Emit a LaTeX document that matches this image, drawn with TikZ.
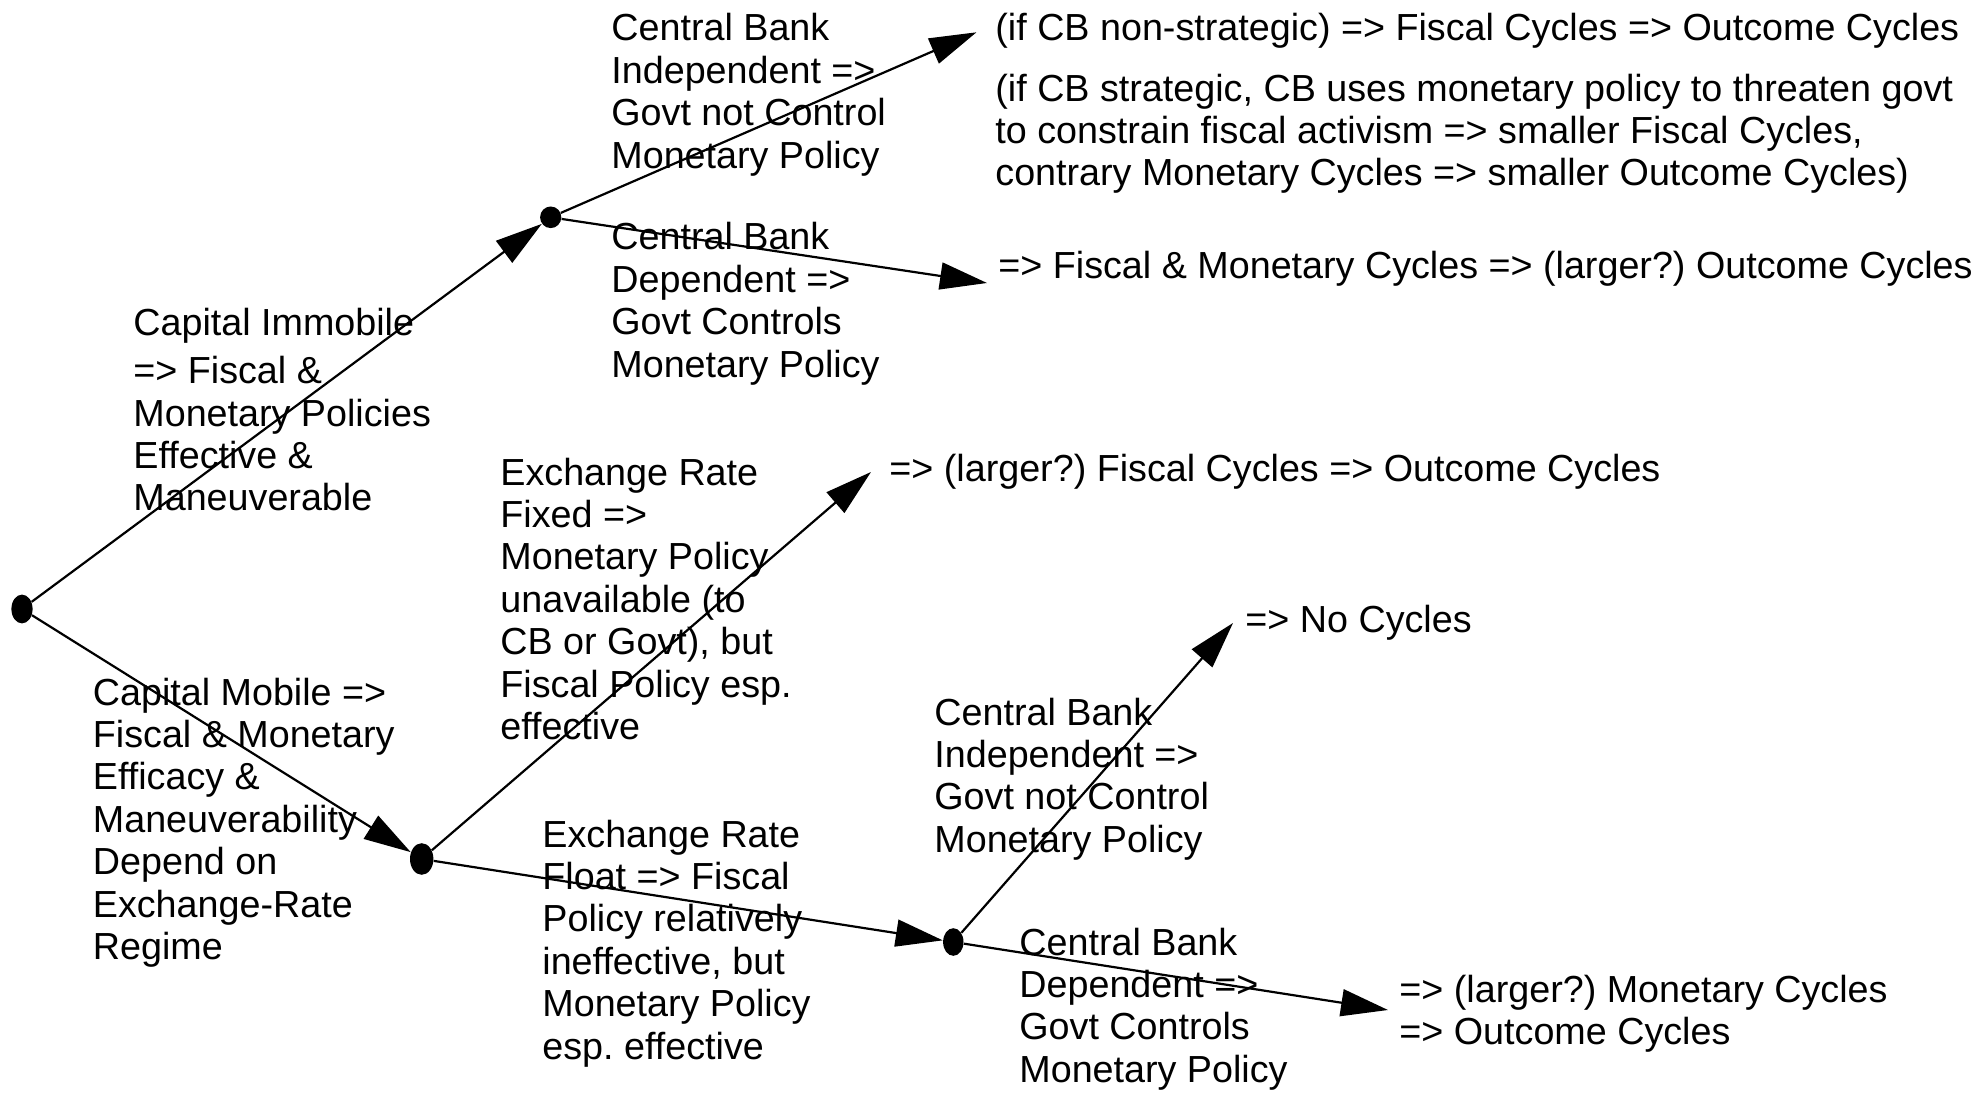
\documentclass[tikz,border=0pt]{standalone}
\usepackage{fontspec}
\setmainfont{Liberation Sans}
\usetikzlibrary{arrows.meta,shapes.geometric}
\begin{document}
\begin{tikzpicture}[x=0.5pt,y=-0.5pt,
  lbl/.style={anchor=base west,inner sep=0pt,align=left,font=\fontsize{18.85pt}{21.2pt}\selectfont\frenchspacing},
  dot/.style={ellipse,fill=black,inner sep=0pt},
  arr/.style={line width=1.1pt,-{Triangle[length=23.5pt,width=13.5pt]}}]
\useasboundingbox (0,0) rectangle (1986,1095);
% branching points
\node[dot,minimum width=10.6pt,minimum height=14.4pt] (root) at (22,609) {};
\node[dot,minimum width=10.6pt,minimum height=10.8pt] (A) at (550.7,217.3) {};
\node[dot,minimum width=11.7pt,minimum height=15.8pt] (B) at (421.7,859) {};
\node[dot,minimum width=10.2pt,minimum height=13.8pt] (C) at (953.3,942) {};
% free arrow ends
\coordinate (tTop) at (976.5,32.3);
\coordinate (tMid) at (987,283);
\coordinate (tFis) at (871,472);
\coordinate (tNo) at (1233,623);
\coordinate (tMon) at (1388,1010);
% connectors
\draw[arr] (root) -- (A);
\draw[arr] (A) -- (tTop);
\draw[arr] (A) -- (tMid);
\draw[arr] (root) -- (B);
\draw[arr] (B) -- (tFis);
\draw[arr] (B) -- (C);
\draw[arr] (C) -- (tNo);
\draw[arr] (C) -- (tMon);
% labels (anchored at the baseline of their last line)
\node[lbl] (cbi1) at (611,168.2) {Central Bank\\Independent =>\\Govt not Control\\Monetary Policy};
\node[lbl] (cbd1) at (611,377.2) {Central Bank\\Dependent =>\\Govt Controls\\Monetary Policy};
\node[lbl] (cim) at (133,511) {Capital Immobile\\[2.75pt]=> Fiscal \&\\Monetary Policies\\Effective \&\\Maneuverable};
\node[lbl] (erf) at (500,739.4) {Exchange Rate\\Fixed =>\\Monetary Policy\\unavailable (to\\CB or Govt), but\\Fiscal Policy esp.\\effective};
\node[lbl] (cmo) at (92.5,959.4) {Capital Mobile =>\\Fiscal \& Monetary\\Efficacy \&\\Maneuverability\\Depend on\\Exchange-Rate\\Regime};
\node[lbl] (erl) at (542,1059) {Exchange Rate\\Float => Fiscal\\Policy relatively\\ineffective, but\\Monetary Policy\\esp. effective};
\node[lbl] (cbi2) at (934,852.2) {Central Bank\\Independent =>\\Govt not Control\\Monetary Policy};
\node[lbl] (cbd2) at (1019,1082.2) {Central Bank\\Dependent =>\\Govt Controls\\Monetary Policy};
\node[lbl] (ns) at (995,41) {(if CB non-strategic) => Fiscal Cycles => Outcome Cycles};
\node[lbl] (st) at (995,186) {(if CB strategic, CB uses monetary policy to threaten govt\\to constrain fiscal activism => smaller Fiscal Cycles,\\contrary Monetary Cycles => smaller Outcome Cycles)};
\node[lbl] (fm) at (998,279) {=> Fiscal \& Monetary Cycles => (larger?) Outcome Cycles};
\node[lbl] (lf) at (889,482) {=> (larger?) Fiscal Cycles => Outcome Cycles};
\node[lbl] (nc) at (1245,633) {=> No Cycles};
\node[lbl] (lm) at (1399,1044.4) {=> (larger?) Monetary Cycles\\=> Outcome Cycles};
\end{tikzpicture}
\end{document}
